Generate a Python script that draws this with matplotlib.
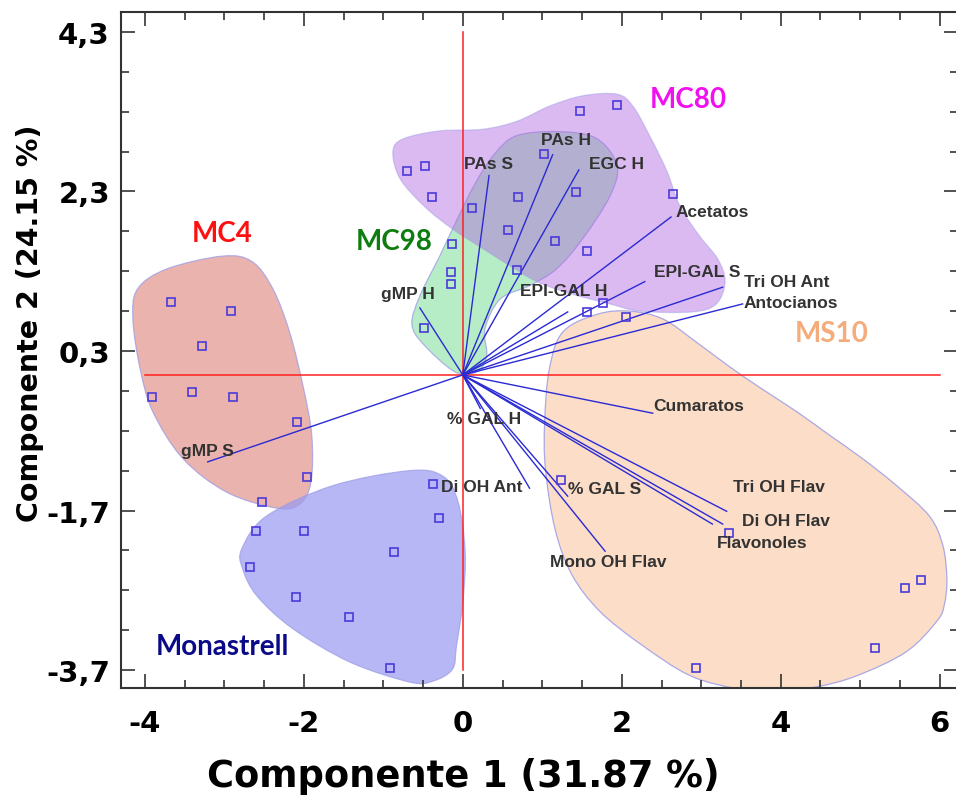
import numpy as np
import matplotlib
matplotlib.use("Agg")
import matplotlib.pyplot as plt
from matplotlib.path import Path
from matplotlib.patches import PathPatch
from matplotlib.ticker import FixedLocator, MultipleLocator

mc4_x = [-3.67, -2.92, -3.28, -3.91, -3.41, -2.89, -2.08, -1.96, -2.53]
mc4_y = [0.92, 0.80, 0.36, -0.28, -0.21, -0.28, -0.59, -1.28, -1.59]
mon_x = [-2.60, -2.00, -2.68, -0.86, -2.10, -1.43, -0.91, -0.38, -0.30]
mon_y = [-1.96, -1.96, -2.41, -2.22, -2.78, -3.03, -3.67, -1.37, -1.79]
mc98_x = [-0.14, -0.15, -0.15, -0.49, 0.68, 0.11]
mc98_y = [1.64, 1.29, 1.14, 0.59, 1.32, 2.09]
mc80_x = [-0.70, -0.47, -0.39, 1.02, 0.69, 0.57, 1.16, 1.42, 1.56, 1.48, 1.94, 2.64, 1.76, 1.56]
mc80_y = [2.56, 2.62, 2.23, 2.77, 2.23, 1.82, 1.68, 2.29, 1.55, 3.31, 3.39, 2.27, 0.90, 0.79]
ms10_x = [2.05, 1.23, 3.35, 2.94, 5.19, 5.56, 5.77]
ms10_y = [0.73, -1.32, -1.98, -3.67, -3.42, -2.67, -2.57]

# loadings (vector end points)
var_names = ["PAs S", "PAs H", "EGC H", "Acetatos", "EPI-GAL S", "Tri OH Ant",
             "Antocianos", "EPI-GAL H", "gMP H", "gMP S", "% GAL H", "Di OH Ant",
             "% GAL S", "Mono OH Flav", "Cumaratos", "Tri OH Flav", "Di OH Flav",
             "Flavonoles"]
load_x = [0.33, 1.13, 1.46, 2.62, 2.29, 3.27, 3.52, 1.32, -0.54, -3.21, 0.22, 0.84,
          1.32, 1.79, 2.39, 3.32, 3.27, 3.14]
load_y = [2.50, 2.76, 2.57, 1.98, 1.17, 1.10, 0.89, 0.79, 0.84, -1.09, -0.42, -1.42,
          -1.52, -2.21, -0.48, -1.71, -1.87, -1.87]

# label placement (offset in points, alignment)
label_layout = {
    "PAs S": (-0.7, 8.6, "center"), "PAs H": (9.4, 10.8, "center"),
    "EGC H": (27.4, 4.3, "center"), "Acetatos": (2.9, 4.3, "left"),
    "EPI-GAL S": (6.5, 7.2, "left"), "Tri OH Ant": (15.1, 4.3, "left"),
    "Antocianos": (0.7, 0.7, "left"), "EPI-GAL H": (-2.9, 15.1, "center"),
    "gMP H": (-8.6, 10.1, "center"), "gMP S": (0, 7.9, "center"),
    "% GAL H": (2.5, -7.6, "center"), "Di OH Ant": (-5, 1.4, "right"),
    "% GAL S": (0, 5.8, "left"), "Mono OH Flav": (2.2, -7.2, "center"),
    "Cumaratos": (0, 5.8, "left"), "Tri OH Flav": (4.3, 18, "left"),
    "Di OH Flav": (13.7, 2.9, "left"), "Flavonoles": (2.9, -13, "left"),
}

# hand drawn group outlines
mc4_outline = [(-4.15, 0.70), (-4.09, 1.08), (-3.72, 1.33), (-3.02, 1.49), (-2.65, 1.42),
               (-2.39, 1.08), (-2.18, 0.54), (-2.01, -0.14), (-1.90, -0.76), (-1.91, -1.34),
               (-2.05, -1.62), (-2.34, -1.67), (-2.97, -1.47), (-3.52, -1.05), (-3.90, -0.46),
               (-4.06, 0.08)]
mon_outline = [(-2.78, -2.18), (-2.47, -1.77), (-1.64, -1.39), (-0.67, -1.20), (-0.25, -1.27),
               (-0.06, -1.59), (0.03, -2.22), (0.00, -2.85), (-0.08, -3.40), (-0.13, -3.69),
               (-0.38, -3.84), (-0.67, -3.85), (-1.42, -3.60), (-2.14, -3.18), (-2.59, -2.77),
               (-2.77, -2.43)]
mc98_outline = [(0.68, 3.00), (1.22, 3.05), (1.69, 2.96), (1.94, 2.62), (1.85, 2.24),
                (1.51, 1.71), (1.18, 1.33), (0.84, 1.12), (0.47, 0.95), (0.28, 0.58),
                (0.30, 0.24), (0.18, 0.04), (-0.10, 0.04), (-0.50, 0.39), (-0.64, 0.64),
                (-0.54, 0.99), (-0.29, 1.49), (-0.10, 1.89), (0.15, 2.39), (0.40, 2.77)]
mc80_outline = [(-0.88, 2.80), (-0.75, 2.96), (-0.29, 3.06), (0.25, 3.08), (0.68, 3.18),
                (1.09, 3.37), (1.51, 3.50), (1.94, 3.52), (2.14, 3.37), (2.35, 3.00),
                (2.57, 2.55), (2.73, 2.12), (2.98, 1.74), (3.21, 1.45), (3.30, 1.17),
                (3.19, 0.89), (2.89, 0.79), (2.23, 0.80), (1.85, 0.89), (1.35, 1.02),
                (0.93, 1.17), (0.59, 1.37), (0.21, 1.61), (-0.13, 1.83), (-0.48, 2.11),
                (-0.79, 2.46)]
ms10_outline = [(1.26, 0.54), (1.69, 0.76), (2.10, 0.80), (2.52, 0.70), (2.94, 0.41),
                (3.36, 0.10), (3.77, -0.18), (4.20, -0.46), (4.62, -0.76), (5.03, -1.05),
                (5.46, -1.39), (5.87, -1.77), (6.04, -2.14), (6.09, -2.56), (6.06, -2.87),
                (5.97, -3.08), (5.58, -3.47), (4.96, -3.77), (4.45, -3.91), (3.90, -3.97),
                (3.48, -3.94), (2.86, -3.77), (2.23, -3.37), (1.72, -2.96), (1.37, -2.50),
                (1.16, -1.93), (1.04, -1.18), (1.03, -0.59), (1.09, 0.08)]

group_names = ["MC4", "MC98", "MC80", "MS10", "Monastrell"]
group_label_pos = [(-3.03, 1.78), (-0.86, 1.68), (2.84, 3.46), (4.64, 0.53), (-3.03, -3.40)]
group_label_colors = ["#FF1010", "#0E7D10", "#F010F0", "#F4AC7C", "#0A0A88"]

xticks = [-4, -2, 0, 2, 4, 6]
yticks = [-3.7, -1.7, 0.3, 2.3, 4.3]
ytick_labels = ["-3,7", "-1,7", "0,3", "2,3", "4,3"]


def smooth_closed(pts):
    # closed Catmull-Rom curve through the outline points, as cubic Bezier segments
    pts = np.asarray(pts, dtype=float)
    n = len(pts)
    verts = [pts[0]]
    codes = [Path.MOVETO]
    for i in range(n):
        p0, p1, p2, p3 = pts[i - 1], pts[i], pts[(i + 1) % n], pts[(i + 2) % n]
        verts += [p1 + (p2 - p0) / 6, p2 - (p3 - p1) / 6, p2]
        codes += [Path.CURVE4] * 3
    return Path(verts, codes)


fig = plt.figure(figsize=(9.56, 8.03), dpi=100)
ax = fig.add_axes([121 / 956, 114 / 803, 837 / 956, 676 / 803])
ax.set_xlim(-4.30, 6.23)
ax.set_ylim(-3.925, 4.55)

edge = "#9C9CE6"
shapes = [
    (mc4_outline, "#E39A92", 0.75),
    (mon_outline, "#9C9CF2", 0.72),
    (ms10_outline, "#FCD8BE", 0.85),
    (mc98_outline, "#9FE8B4", 0.75),
    (mc80_outline, "#B064E0", 0.45),
]
for outline, col, a in shapes:
    ax.add_patch(PathPatch(smooth_closed(outline), facecolor=col, alpha=a,
                           edgecolor=edge, lw=0.9, zorder=1))

# red reference axes
ax.plot([0, 0], [yticks[0], yticks[-1]], color="#FF2020", lw=1.1, zorder=2)
ax.plot([xticks[0], xticks[-1]], [0, 0], color="#FF2020", lw=1.1, zorder=2)

# loading vectors
for name, lx, ly in zip(var_names, load_x, load_y):
    ax.plot([0, lx], [0, ly], color="#2A2AD4", lw=1.0, zorder=3)
    dx, dy, ha = label_layout[name]
    ax.annotate(name, (lx, ly), xytext=(dx, dy), textcoords="offset points",
                ha=ha, va="center", fontsize=12.5, fontweight="bold",
                family="Liberation Sans", color="#333333", zorder=5)

# observations
for gx, gy in [(mc4_x, mc4_y), (mon_x, mon_y), (mc98_x, mc98_y), (mc80_x, mc80_y), (ms10_x, ms10_y)]:
    ax.plot(gx, gy, ls="none", marker="s", ms=5.2, mfc="none", mec="#4A3ADA", mew=1.2, zorder=4)

for name, (gx, gy), col in zip(group_names, group_label_pos, group_label_colors):
    ax.text(gx, gy, name, ha="center", va="center", fontsize=20, fontweight="bold",
            family="Lato", color=col, zorder=5)

# axes frame and ticks
ax.xaxis.set_major_locator(FixedLocator(xticks))
ax.xaxis.set_minor_locator(MultipleLocator(0.5))
ax.yaxis.set_major_locator(FixedLocator(yticks))
ax.yaxis.set_minor_locator(FixedLocator(np.arange(-3.7, 4.31, 0.5)))
ax.set_xticklabels([str(t) for t in xticks])
ax.set_yticklabels(ytick_labels)
ax.tick_params(which="both", direction="in", top=True, right=True, color="#333333", width=1.2)
ax.tick_params(which="major", length=10, labelsize=21)
ax.tick_params(which="minor", length=5.5)
ax.tick_params(axis="x", pad=15)
ax.tick_params(axis="y", pad=8)
for lab in ax.get_xticklabels() + ax.get_yticklabels():
    lab.set_fontweight("bold")
for s in ax.spines.values():
    s.set_color("#333333")
    s.set_linewidth(1.5)

ax.set_xlabel("Componente 1 (31.87 %)", fontsize=26.5, fontweight="bold", va="center")
ax.set_ylabel("Componente 2 (24.15 %)", fontsize=20.5, fontweight="bold", va="center")
ax.xaxis.set_label_coords(0.409, -0.130)
ax.yaxis.set_label_coords(-0.109, 0.541)

fig.savefig("out.png", dpi=100)
